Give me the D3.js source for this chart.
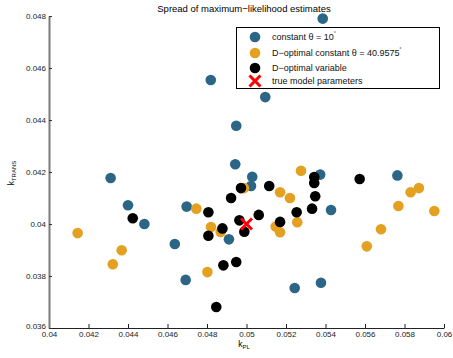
<!DOCTYPE html>
<html>
<head>
<meta charset="utf-8">
<script src="https://cdn.jsdelivr.net/npm/d3@7/dist/d3.min.js"></script>
<style>
  body { margin: 0; background: #fff; }
  svg { font-family: "Liberation Sans", Arial, Helvetica, sans-serif; }
</style>
</head>
<body>
<div id="chart"></div>
<script>
// estimates: [k_PL, k_TRANS]
const constant10 = [
  [0.04312, 0.04177], [0.04400, 0.04072], [0.04483, 0.04000], [0.04637, 0.03923],
  [0.04692, 0.03785], [0.04697, 0.04067], [0.05095, 0.04488], [0.04948, 0.04378],
  [0.04943, 0.04230], [0.05029, 0.04182], [0.05023, 0.04146], [0.04911, 0.03941],
  [0.05373, 0.04190], [0.05428, 0.04054], [0.05244, 0.03754], [0.05377, 0.03774],
  [0.05764, 0.04187], [0.05386, 0.04790], [0.04819, 0.04554],
];

const dOptConstant = [
  [0.04145, 0.03965], [0.04368, 0.03899], [0.04323, 0.03845], [0.04746, 0.04059],
  [0.04987, 0.04138], [0.05276, 0.04205], [0.05170, 0.04122], [0.05220, 0.04100],
  [0.04820, 0.03988], [0.04869, 0.03969], [0.05148, 0.03990], [0.05170, 0.03968],
  [0.05257, 0.04007], [0.04802, 0.03815], [0.05873, 0.04138], [0.05831, 0.04122],
  [0.05769, 0.04069], [0.05951, 0.04050], [0.05681, 0.03980], [0.05609, 0.03914],
];

const dOptVariable = [
  [0.04424, 0.04022], [0.04972, 0.04138], [0.05115, 0.04146], [0.04922, 0.04100],
  [0.04807, 0.04045], [0.05343, 0.04181], [0.05343, 0.04158], [0.05348, 0.04107],
  [0.05332, 0.04059], [0.05254, 0.04045], [0.05062, 0.04035], [0.04964, 0.04014],
  [0.04989, 0.03970], [0.04878, 0.03983], [0.04807, 0.03955], [0.05170, 0.04008],
  [0.04883, 0.03841], [0.04948, 0.03854], [0.04847, 0.03681], [0.05573, 0.04173],
];

const trueParams = [0.05, 0.04];

const xTicks = [0.04, 0.042, 0.044, 0.046, 0.048, 0.05, 0.052, 0.054, 0.056, 0.058, 0.06];
const yTicks = [0.036, 0.038, 0.04, 0.042, 0.044, 0.046, 0.048];

const seriesNames = ['constant \u03b8 = 10', 'D\u2212optimal constant \u03b8 = 40.9575', 'D\u2212optimal variable', 'true model parameters'];

const blue = '#2c6687';
const orange = '#e3a021';

const width = 453;
const height = 358;

const x = d3.scaleLinear().domain([0.04, 0.06]).range([49, 444]);
const y = d3.scaleLinear().domain([0.036, 0.048]).range([328, 16]);

const fmt = d => String(+d.toFixed(3));

const svg = d3.select('#chart').append('svg')
    .attr('width', width)
    .attr('height', height);

svg.append('text')
    .attr('x', 244)
    .attr('y', 12)
    .attr('text-anchor', 'middle')
    .attr('font-size', 9.5)
    .text('Spread of maximum\u2212likelihood estimates');

// axes
const xAxis = svg.append('g')
    .attr('transform', `translate(0,${y.range()[0]})`)
    .call(d3.axisBottom(x).tickValues(xTicks).tickFormat(fmt).tickSizeInner(-4).tickSizeOuter(0).tickPadding(3));
xAxis.select('.domain').attr('stroke', '#222').attr('stroke-width', 1);
xAxis.selectAll('.tick line').attr('stroke', '#222');
xAxis.selectAll('text').attr('font-size', 8).attr('fill', '#222');

const yAxis = svg.append('g')
    .attr('transform', `translate(${x.range()[0]},0)`)
    .call(d3.axisLeft(y).tickValues(yTicks).tickFormat(fmt).tickSizeInner(-3).tickSizeOuter(0).tickPadding(3));
yAxis.select('.domain').attr('stroke', '#7a7a7a').attr('stroke-width', 2);
yAxis.selectAll('.tick line').attr('stroke', '#333');
yAxis.selectAll('text').attr('font-size', 8).attr('fill', '#222');
// lowest y label sits just above the first x label, as in the original
yAxis.selectAll('.tick text').filter(d => d === 0.036).attr('dy', '0.05em');

// axis labels
const xl = svg.append('text')
    .attr('x', 244)
    .attr('y', 347)
    .attr('text-anchor', 'middle')
    .attr('font-size', 8.5);
xl.append('tspan').text('k');
xl.append('tspan').attr('font-size', 6).attr('dy', 2).text('PL');

const yl = svg.append('text')
    .attr('transform', 'translate(14,173) rotate(-90)')
    .attr('text-anchor', 'middle')
    .attr('font-size', 8.5);
yl.append('tspan').text('k');
yl.append('tspan').attr('font-size', 6).attr('dy', 2).text('TRANS');

// points
const r = 5.3;
const plot = svg.append('g');

function drawSeries(data, colour) {
  plot.append('g').selectAll('circle')
      .data(data)
    .enter().append('circle')
      .attr('cx', d => x(d[0]))
      .attr('cy', d => y(d[1]))
      .attr('r', r)
      .attr('fill', colour);
}

drawSeries(constant10, blue);
drawSeries(dOptConstant, orange);
drawSeries(dOptVariable, '#000');

function cross(g, cx, cy, s) {
  g.append('path')
      .attr('d', `M${cx - s},${cy - s}L${cx + s},${cy + s}M${cx - s},${cy + s}L${cx + s},${cy - s}`)
      .attr('stroke', '#f00')
      .attr('stroke-width', 3)
      .attr('fill', 'none');
}

cross(plot, x(trueParams[0]), y(trueParams[1]), 5.5);

// legend
const legend = svg.append('g');
legend.append('rect')
    .attr('x', 236.5)
    .attr('y', 27.5)
    .attr('width', 203)
    .attr('height', 61)
    .attr('fill', '#fff')
    .attr('stroke', '#000')
    .attr('stroke-width', 1);

const rowsY = [37, 53, 68, 81];
const markerColours = [blue, orange, '#000'];

rowsY.forEach((ry, i) => {
  if (i < 3) {
    legend.append('circle')
        .attr('cx', 255)
        .attr('cy', ry)
        .attr('r', r)
        .attr('fill', markerColours[i]);
  } else {
    cross(legend, 255, ry, 5.5);
  }
  const t = legend.append('text')
      .attr('x', 272)
      .attr('y', ry + 3.2)
      .attr('font-size', 9)
      .attr('fill', '#111');
  t.append('tspan').text(seriesNames[i]);
  if (i < 2) {
    t.append('tspan').attr('font-size', 5).attr('dy', -5).text('\u00b0');
  }
});
</script>
</body>
</html>
